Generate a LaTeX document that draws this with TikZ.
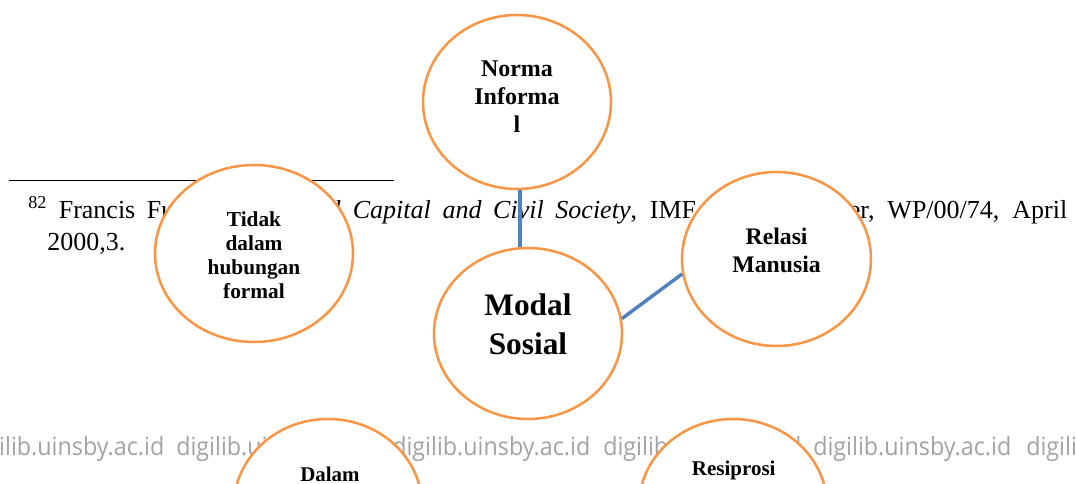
\documentclass[tikz,border=0pt]{standalone}
\usepackage{fontspec}
\setmainfont{Liberation Serif}
\newfontfamily\wmfont{Open Sans}
\usetikzlibrary{shapes.geometric}
\definecolor{bubbleorange}{HTML}{F79646}
\definecolor{linkblue}{HTML}{4F81BD}
\definecolor{wmgray}{HTML}{A3A3A3}

\tikzset{
  bubble/.style={ellipse, draw=bubbleorange, line width=1.9pt, fill=white,
    inner sep=0pt, minimum width=141pt, minimum height=130.5pt},
  link/.style={draw=linkblue, line width=2.6pt},
  lbl/.style={inner sep=0pt, anchor=base},
  wm/.style={inner sep=0pt, anchor=base west, text=wmgray,
    font=\wmfont\fontsize{18.8}{22}\selectfont},
}
% centred bold label: size, baselineskip, lines
\newcommand\bubbletext[3]{\parbox[t]{150pt}{\centering\fontsize{#1}{#2}\selectfont\bfseries #3}}
% slightly condensed watermark word
\newcommand\wmword{\scalebox{0.93}[1]{digilib.uinsby.ac.id}}

\begin{document}
\begin{tikzpicture}[x=0.75pt,y=-0.75pt]
\clip (0,0) rectangle (1076,484);
\fill[white] (0,0) rectangle (1076,484);

% footnote rule and footnote
\draw[line width=1.1pt] (8.6,180.7) -- (393.6,180.7);
\node[inner sep=0pt, anchor=base west] (fn) at (47,219)
  {\parbox[t]{765pt}{\fontsize{19.5}{24}\selectfont\tolerance=10000
   \hspace*{-14.25pt}\textsuperscript{82} Francis Fukuyama, \textit{Social Capital and Civil Society}, IMF Working Paper, WP/00/74, April\linebreak 2000,3.}};

% repository watermark
\foreach \x [count=\i] in {-34,176,392,603,813,1026}
  \node[wm] (wm\i) at (\x,456) {\wmword};

% bubbles
\node[bubble] (norma) at (517,102) {};
\node[bubble, minimum width=148.5pt, minimum height=132.75pt] (tidak) at (254,253.5) {};
\node[bubble, minimum width=141.75pt] (relasi) at (776.5,259) {};
\node[bubble, minimum height=128.25pt] (modal) at (528,333.5) {};
\node[bubble] (dalam) at (328,506) {};
\node[bubble] (resiprosi) at (733,506) {};

% labels
\node[lbl] (normaT) at (517,76.7) {\bubbletext{18}{21}{Norma\\Informa\\l}};
\node[lbl] (tidakT) at (254,227) {\bubbletext{16}{18}{Tidak\\dalam\\hubungan\\formal}};
\node[lbl] (relasiT) at (776.6,244.8) {\bubbletext{17.8}{21}{Relasi\\Manusia}};
\node[lbl] (modalT) at (528,315.7) {\bubbletext{23.5}{29.3}{Modal\\Sosial}};
\node[lbl] (dalamT) at (330,481.7) {\bubbletext{15.7}{18}{Dalam}};
\node[lbl] (resiprosiT) at (733.7,476) {\bubbletext{15.75}{18}{Resiprosi}};

% connectors
\draw[link] ([xshift=2.25pt]norma.south) -- ([xshift=2.25pt]norma.south |- modal.north);
\draw[link] (modal.9) -- (relasi.189);
\end{tikzpicture}
\end{document}
